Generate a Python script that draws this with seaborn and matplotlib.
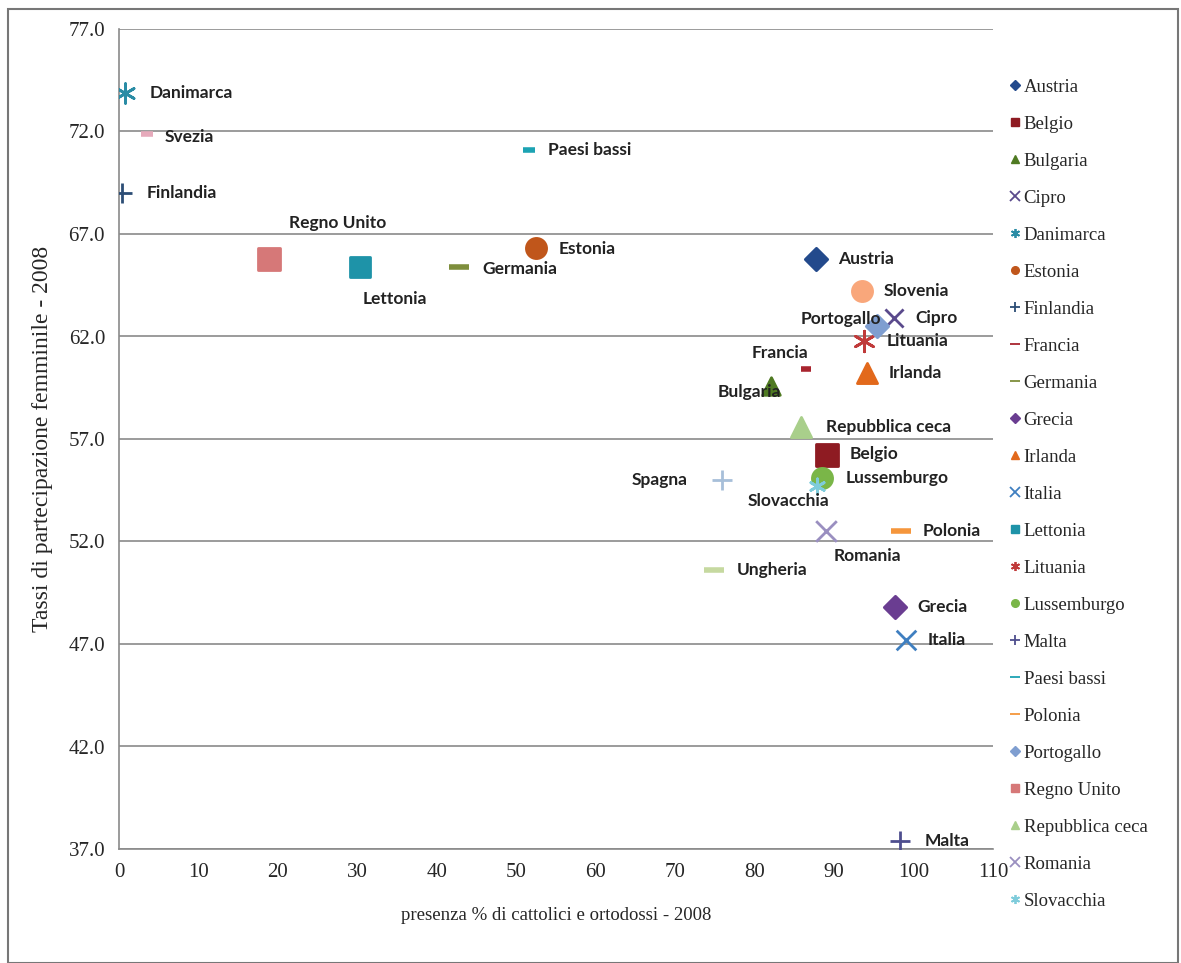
import matplotlib
matplotlib.use('Agg')
import matplotlib.pyplot as plt
from matplotlib.lines import Line2D
from matplotlib.patches import Rectangle
import seaborn as sns
import pandas as pd

# dati
paesi = ['Austria', 'Belgio', 'Bulgaria', 'Cipro', 'Danimarca', 'Estonia', 'Finlandia',
         'Francia', 'Germania', 'Grecia', 'Irlanda', 'Italia', 'Lettonia', 'Lituania',
         'Lussemburgo', 'Malta', 'Paesi bassi', 'Polonia', 'Portogallo', 'Regno Unito',
         'Repubblica ceca', 'Romania', 'Slovacchia', 'Slovenia', 'Spagna', 'Svezia', 'Ungheria']
cattolici = [87.7, 89.1, 82.1, 97.5, 0.8, 52.5, 0.4,
             86.5, 42.8, 97.7, 94.1, 99.1, 30.3, 93.8,
             88.5, 98.3, 51.6, 98.4, 95.4, 18.9,
             85.8, 89.0, 87.9, 93.5, 75.9, 3.5, 74.9]
partecipazione = [65.8, 56.2, 59.6, 62.9, 73.9, 66.3, 69.0,
                  60.4, 65.4, 48.8, 60.2, 47.2, 65.4, 61.8,
                  55.1, 37.4, 71.1, 52.5, 62.5, 65.8,
                  57.6, 52.5, 54.7, 64.2, 55.0, 71.9, 50.6]

df = pd.DataFrame({'paese': paesi, 'x': cattolici, 'y': partecipazione})

# stile marker (tipo excel)
stile = {
    'Austria': ('D', '#234A8C', 130), 'Belgio': ('s', '#8E1B22', 230),
    'Bulgaria': ('^', '#4F7A22', 160), 'Cipro': ('x', '#5A4A8C', 170),
    'Danimarca': ((6, 2, 0), '#2A8CA5', 200), 'Estonia': ('o', '#C0561B', 210),
    'Finlandia': ('+', '#2C4D75', 200), 'Francia': ('_', '#A8242E', 60),
    'Germania': ('_', '#7E8E3C', 200), 'Grecia': ('D', '#6A3D91', 130),
    'Irlanda': ('^', '#E2691C', 210), 'Italia': ('x', '#3F7FC0', 200),
    'Lettonia': ('s', '#1E93A8', 200), 'Lituania': ((6, 2, 0), '#C03A3A', 220),
    'Lussemburgo': ('o', '#7AB648', 210), 'Malta': ('+', '#4E4E8E', 200),
    'Paesi bassi': ('_', '#1CA3B3', 80), 'Polonia': ('_', '#F5963C', 200),
    'Portogallo': ('D', '#7F9ED0', 130), 'Regno Unito': ('s', '#D67878', 230),
    'Repubblica ceca': ('^', '#A9CF8B', 210), 'Romania': ('x', '#9A8FC0', 220),
    'Slovacchia': ((6, 2, 0), '#7FCCDB', 120), 'Slovenia': ('o', '#F9A77B', 210),
    'Spagna': ('+', '#A7BFD9', 220), 'Svezia': ('_', '#E6AABB', 80),
    'Ungheria': ('_', '#C6D9A0', 200),
}

# posizione etichette (pixel, allineamento)
etichette = {
    'Danimarca': (24, 0, 'left'), 'Svezia': (18, -3, 'left'), 'Finlandia': (24, 0, 'left'),
    'Regno Unito': (20, 36, 'left'), 'Lettonia': (3, -32, 'left'), 'Germania': (23, -2, 'left'),
    'Estonia': (22, -1, 'left'), 'Paesi bassi': (19, 0, 'left'), 'Austria': (22, 0, 'left'),
    'Slovenia': (22, 0, 'left'), 'Cipro': (22, 0, 'left'), 'Portogallo': (4, 7, 'right'),
    'Lituania': (22, 0, 'left'), 'Francia': (2, 16, 'right'), 'Irlanda': (22, 0, 'left'),
    'Bulgaria': (10, -6, 'right'), 'Repubblica ceca': (25, 0, 'left'), 'Belgio': (23, 1, 'left'),
    'Lussemburgo': (23, 0, 'left'), 'Slovacchia': (12, -15, 'right'), 'Spagna': (-34, 0, 'right'),
    'Romania': (7, -25, 'left'), 'Polonia': (22, 0, 'left'), 'Ungheria': (23, 0, 'left'),
    'Grecia': (22, 0, 'left'), 'Italia': (21, 0, 'left'), 'Malta': (25, 0, 'left'),
}

sns.set_style('white')
plt.rcParams['font.family'] = ['Liberation Serif', 'DejaVu Serif']

fig = plt.figure(figsize=(11.81, 9.63), dpi=100)
ax = fig.add_axes([119 / 1181, 1 - 849 / 963, 874 / 1181, 820 / 963])

for _, r in df.iterrows():
    m, c, s = stile[r['paese']]
    lw = 4 if m == '_' else 2
    sns.scatterplot(x=[r['x']], y=[r['y']], marker=m, color=c, s=s, linewidth=lw,
                    edgecolor=c, ax=ax, zorder=3)
    dx, dy, ha = etichette[r['paese']]
    ax.annotate(r['paese'], (r['x'], r['y']), xytext=(dx, dy), textcoords='offset pixels',
                ha=ha, va='center', fontsize=12.5, fontweight='bold', family='Lato',
                color='#222222', zorder=4)

ax.set_xlim(0, 110)
ax.set_ylim(37, 77)
ax.set_xticks(range(0, 111, 10))
ax.set_yticks([37 + 5 * i for i in range(9)])
ax.set_yticklabels([f'{37 + 5 * i:.1f}' for i in range(9)])
ax.yaxis.grid(True, color='#8a8a8a', linewidth=1.2)
ax.xaxis.grid(False)
for side in ['top', 'right']:
    ax.spines[side].set_visible(False)
for side in ['left', 'bottom']:
    ax.spines[side].set_color('#8a8a8a')
    ax.spines[side].set_linewidth(1.2)
ax.tick_params(axis='x', direction='inout', length=8, color='#8a8a8a', labelsize=15, pad=6)
ax.tick_params(axis='y', direction='out', length=6, color='#8a8a8a', labelsize=15, pad=4)
ax.set_xlabel('presenza % di cattolici e ortodossi - 2008', fontsize=13.5, labelpad=18)
ax.set_ylabel('Tassi di partecipazione femminile - 2008', fontsize=17, labelpad=11)

# legenda (solo le prime 23 voci visibili)
handles = []
for p in paesi[:23]:
    m, c, s = stile[p]
    filled = m in ('D', 's', '^', 'o')
    handles.append(Line2D([], [], linestyle='none', marker=m, color=c,
                          markersize=5.5 if filled else 6.5, markeredgewidth=1 if filled else 1.3))
fig.legend(handles, paesi[:23], loc='upper left', bbox_to_anchor=(1002 / 1181, 1 - 71 / 963),
           frameon=False, fontsize=13.5, handlelength=0.6, handletextpad=0.15,
           labelspacing=1.06, borderaxespad=0)

fig.patches.append(Rectangle((8 / 1181, 0.0), 1170 / 1181, 1 - 9 / 963,
                             transform=fig.transFigure, fill=False,
                             edgecolor='#777777', linewidth=1.5))

fig.savefig('out.png', dpi=100)
